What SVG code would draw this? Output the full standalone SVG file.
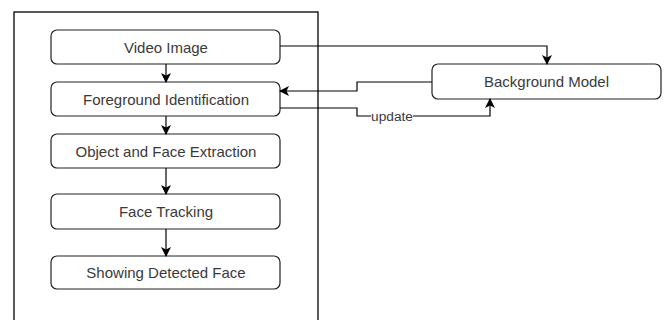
<svg xmlns="http://www.w3.org/2000/svg" width="666" height="320" viewBox="0 0 666 320">
<defs>
<marker id="ah" viewBox="0 0 10 10" refX="9" refY="5" markerWidth="10" markerHeight="10" markerUnits="userSpaceOnUse" orient="auto">
<path d="M0,0 L10,5 L0,10 L2.5,5 Z" fill="#000"/>
</marker>
</defs>
<style>
.box{fill:#fff;stroke:#222;stroke-width:1.2}
.lbl{font-family:"Liberation Sans",Arial,sans-serif;font-size:15px;fill:#3a3a3a;text-anchor:middle;dominant-baseline:central}
.edge{fill:none;stroke:#000;stroke-width:1.2;marker-end:url(#ah)}
</style>
<rect width="666" height="320" fill="#fff"/>
<g id="container"><rect x="14" y="12" width="304" height="330" fill="none" stroke="#000" stroke-width="1.3"/></g>
<g id="video-image"><rect class="box" x="51" y="30" width="229" height="34" rx="6"/><text class="lbl" x="166" y="47">Video Image</text></g>
<g id="foreground"><rect class="box" x="51" y="82" width="229" height="34" rx="6"/><text class="lbl" x="166" y="99">Foreground Identification</text></g>
<g id="object-face"><rect class="box" x="51" y="134" width="229" height="34" rx="6"/><text class="lbl" x="166" y="151">Object and Face Extraction</text></g>
<g id="face-tracking"><rect class="box" x="51" y="194" width="229" height="35" rx="6"/><text class="lbl" x="166" y="211.5">Face Tracking</text></g>
<g id="showing"><rect class="box" x="51" y="256" width="229" height="33" rx="6"/><text class="lbl" x="166" y="272.5">Showing Detected Face</text></g>
<g id="background-model"><rect class="box" x="432" y="64" width="229" height="35" rx="6"/><text class="lbl" x="546.5" y="81.5">Background Model</text></g>
<g id="connectors">
<path class="edge" d="M166,64 V82"/>
<path class="edge" d="M166,116 V134"/>
<path class="edge" d="M166,168 V194"/>
<path class="edge" d="M166,229 V256"/>
<path class="edge" d="M280,46 H547 V64"/>
<path class="edge" d="M432,82 H357 V91 H280"/>
<path class="edge" d="M280,108 H357 V116 H490 V99"/>
<rect x="371" y="110" width="42" height="12" fill="#fff"/>
<text x="392" y="116" font-family="Liberation Sans,Arial,sans-serif" font-size="13.7" fill="#3a3a3a" text-anchor="middle" dominant-baseline="central">update</text>
</g>
</svg>
